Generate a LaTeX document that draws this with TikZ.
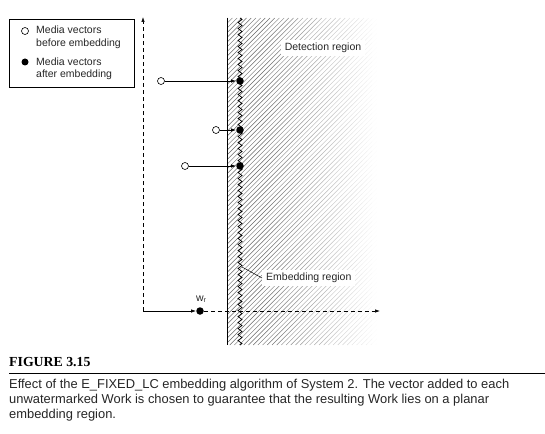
\documentclass[tikz,border=0pt]{standalone}
\usepackage{fontspec}
\setmainfont{Liberation Sans}
\newfontfamily\capfont{Liberation Serif}
\usetikzlibrary{arrows.meta,decorations.pathmorphing}
\begin{document}
\begin{tikzpicture}[x=1pt,y=-1pt,
  every node/.style={inner sep=0pt, font=\fontsize{10.5}{12}\selectfont, text=black!85},
  opendot/.style={circle, draw, line width=0.6pt, fill=white, minimum size=7pt, inner sep=0pt},
  fulldot/.style={circle, fill=black, minimum size=7.5pt, inner sep=0pt},
  tip/.style={-{Latex[length=5pt,width=3.5pt]}},
  vecline/.style={line width=0.7pt, tip},
  dashaxis/.style={dash pattern=on 4pt off 3pt, line width=0.7pt},
  labelbox/.style={fill=white, inner xsep=4pt, inner ysep=3pt},
  captext/.style={anchor=base west, font=\fontsize{12.9}{15}\selectfont}]
\useasboundingbox (0,0) rectangle (545,433);

% hatched half-plane, full strength part
\begin{scope}
  \clip (227,18) rectangle (262.2,345);
  \foreach \i in {-104,-99.3,...,270} \draw[black!60, line width=0.45pt] (\i,345) -- ++(327,-327);
\end{scope}
% fading part, in stripes
\foreach \k in {0,...,22} {
  \pgfmathsetmacro{\xa}{262+\k*5}
  \pgfmathsetmacro{\xb}{\xa+5.2}
  \pgfmathsetmacro{\sh}{60*(1-(\k+0.5)/23)}
  \begin{scope}
    \clip (\xa,18) rectangle (\xb,345);
    \foreach \i in {-104,-99.3,...,392} \draw[black!\sh, line width=0.45pt] (\i,345) -- ++(327,-327);
  \end{scope}
}
\draw[line width=0.8pt] (227,18) -- (227,345);
\draw[decorate, decoration={zigzag, segment length=6pt, amplitude=2pt}, line width=0.7pt] (240,18) -- (240,345);

% axes
\coordinate (O) at (143,311);
\coordinate (ytop) at (143,17);
\coordinate (xend) at (380,311);
\draw[dashaxis, tip] (O) -- (ytop);
\node[fulldot] (wr) at (200,311) {};
\draw[vecline] (O) -- (wr);
\draw[dashaxis, tip] (wr) -- (xend);
\node[anchor=base] (wrlabel) at (201,301) {w\raisebox{-1.5pt}{\fontsize{7}{8}\selectfont r}};

% media vectors
\node[fulldot] (a1) at (240,81) {};
\node[opendot] (b1) at (161,81) {};
\node[fulldot] (a2) at (240,130) {};
\node[opendot] (b2) at (216,130) {};
\node[fulldot] (a3) at (240,166) {};
\node[opendot] (b3) at (185,166) {};
\draw[vecline] (b1) -- (a1);
\draw[vecline] (b2) -- (a2);
\draw[vecline] (b3) -- (a3);

% region labels
\node[labelbox] (det) at (323,48) {Detection region};
\node[labelbox, anchor=west] (emb) at (262,278) {Embedding region};
\coordinate (embpt) at (242,267);
\draw[line width=0.5pt] (embpt) -- (emb.west);

% legend
\node[draw, line width=0.8pt, minimum width=125pt, minimum height=68pt, anchor=north west] (legend) at (9,19) {};
\node[opendot] (lo) at (25,31) {};
\node[fulldot, minimum size=7pt] (lf) at (25,62) {};
\node[anchor=base west] (lt1) at (36,34) {Media vectors};
\node[anchor=base west] (lt2) at (36,47) {before embedding};
\node[anchor=base west] (lt3) at (36,66) {Media vectors};
\node[anchor=base west] (lt4) at (36,78) {after embedding};

% caption
\node[anchor=base west, font=\capfont\bfseries\fontsize{13.8}{15}\selectfont, text=black] (fig) at (9,366) {FIGURE 3.15};
\coordinate (rl) at (9,373);
\coordinate (rr) at (545,373);
\draw[line width=0.9pt] (rl) -- (rr);
\node[captext] (c1) at (9,388) {Effect of the E\_FIXED\_LC embedding algorithm of System 2. The vector added to each};
\node[captext] (c2) at (9,403) {unwatermarked Work is chosen to guarantee that the resulting Work lies on a planar};
\node[captext] (c3) at (9,418) {embedding region.};
\end{tikzpicture}
\end{document}
